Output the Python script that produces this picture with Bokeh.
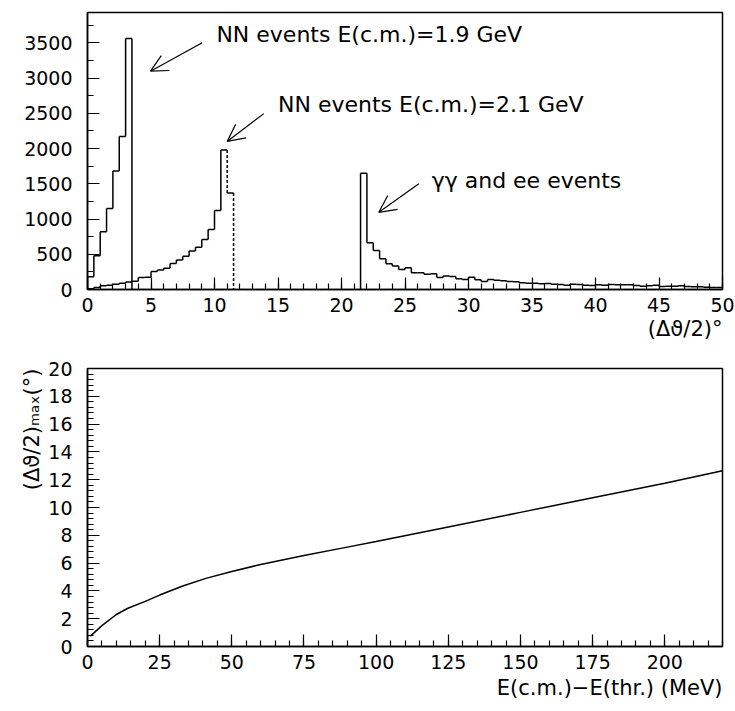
from bokeh.plotting import figure
from bokeh.layouts import column
from bokeh.models import Range1d, SingleIntervalTicker, Label, Arrow, OpenHead, Title
from bokeh.embed import file_html
from bokeh.resources import INLINE

# ---------------- data ----------------
bin_width = 0.5
nn19_start = 0.0
nn19_counts = [180, 480, 820, 1150, 1680, 2170, 3560]
nn21_start = 0.0
nn21_counts = [10, 30, 52, 60, 75, 90, 105, 118, 170, 175, 255, 275, 300, 370,
               420, 470, 545, 600, 710, 850, 1120, 1980, 1370]
gg_start = 21.5
gg_counts = [1650, 663, 554, 436, 365, 332, 284, 308, 237, 237, 218, 223, 171, 190,
             185, 152, 142, 175, 140, 114, 142, 133, 123, 114, 109, 95, 90, 90, 81,
             85, 76, 71, 62, 76, 71, 62, 57, 66, 62, 71, 66, 66, 66, 57, 47, 52, 62,
             43, 47, 47, 52, 43, 38, 38, 33, 28, 28]

e_excess = [1, 5, 10, 14, 20, 25, 33, 41, 50, 60, 75, 90, 100, 125, 150, 175, 200, 220]
theta_max = [0.75, 1.5, 2.3, 2.75, 3.25, 3.7, 4.35, 4.9, 5.4, 5.9, 6.55, 7.15, 7.55,
             8.6, 9.65, 10.7, 11.75, 12.65]

FONT = "DejaVu Sans"
TICK_FS = "19px"
TXT_FS = "21px"
ANN_FS = "22px"


def style_axes(p, xint, xminor, yint, yminor):
    p.grid.visible = False
    p.outline_line_color = "black"
    p.outline_line_width = 1.5
    p.outline_line_alpha = 1.0
    p.xaxis.ticker = SingleIntervalTicker(interval=xint, num_minor_ticks=xminor)
    p.yaxis.ticker = SingleIntervalTicker(interval=yint, num_minor_ticks=yminor)
    for ax in (p.xaxis[0], p.yaxis[0]):
        ax.axis_line_color = "black"
        ax.axis_line_width = 1.5
        ax.major_tick_in = 12
        ax.major_tick_out = 0
        ax.minor_tick_in = 6
        ax.minor_tick_out = 0
        ax.major_tick_line_width = 1.2
        ax.minor_tick_line_width = 1.2
        ax.major_tick_line_color = "black"
        ax.minor_tick_line_color = "black"
        ax.major_label_text_font = FONT
        ax.major_label_text_font_size = TICK_FS
        ax.major_label_text_color = "black"
    p.xaxis.major_label_standoff = 8
    p.yaxis.major_label_standoff = 15


def hist_segments(start, counts):
    edges = [start + i * bin_width for i in range(len(counts) + 1)]
    hx0, hx1, hy = [], [], []
    for i, c in enumerate(counts):
        hx0.append(edges[i]); hx1.append(edges[i + 1]); hy.append(c)
    vx, vy0, vy1 = [], [], []
    prev = 0
    for i in range(len(counts) + 1):
        cur = counts[i] if i < len(counts) else 0
        vx.append(edges[i]); vy0.append(prev); vy1.append(cur)
        prev = cur
    return hx0, hx1, hy, vx, vy0, vy1


def axis_title(text, align, standoff):
    return Title(text=text, align=align, text_font=FONT, text_font_size=TXT_FS,
                 text_font_style="normal", text_color="black", standoff=standoff)


# ---------------- top figure ----------------
p1 = figure(width=735, height=345, x_range=Range1d(0, 50), y_range=Range1d(0, 3930),
            output_backend="svg", toolbar_location=None,
            min_border_left=87, min_border_right=13, min_border_top=12, min_border_bottom=56)
style_axes(p1, 5, 5, 500, 2)

for start, counts, dash_drops in ((nn19_start, nn19_counts, False),
                                  (nn21_start, nn21_counts, True),
                                  (gg_start, gg_counts, False)):
    hx0, hx1, hy, vx, vy0, vy1 = hist_segments(start, counts)
    p1.segment(x0=hx0, x1=hx1, y0=hy, y1=hy, line_color="black", line_width=1.5)
    peak = counts.index(max(counts))
    sx, sy0, sy1, dx, dy0, dy1 = [], [], [], [], [], []
    for i, (x, a, b) in enumerate(zip(vx, vy0, vy1)):
        if dash_drops and i > peak and b < a:
            dx.append(x); dy0.append(a); dy1.append(b)
        else:
            sx.append(x); sy0.append(a); sy1.append(b)
    p1.segment(x0=sx, x1=sx, y0=sy0, y1=sy1, line_color="black", line_width=1.5)
    if dx:
        p1.segment(x0=dx, x1=dx, y0=dy0, y1=dy1, line_color="black",
                   line_width=1.5, line_dash="3 2")

labels_top = [
    ("NN events E(c.m.)=1.9 GeV", 10.15, 3620, 9.03, 3500, 4.96, 3097),
    ("NN events E(c.m.)=2.1 GeV", 15.0, 2625, 13.88, 2495, 11.0, 2101),
    ("γγ and ee events", 27.1, 1540, 26.09, 1499, 22.94, 1095),
]
for txt, tx, ty, xs, ys, xe, ye in labels_top:
    p1.add_layout(Label(x=tx, y=ty, text=txt, text_font=FONT, text_font_size=ANN_FS,
                        text_color="black", text_baseline="alphabetic"))
    p1.add_layout(Arrow(end=OpenHead(size=17, line_width=1.2, line_color="black"),
                        x_start=xs, y_start=ys, x_end=xe, y_end=ye,
                        line_width=1.2, line_color="black"))

p1.add_layout(axis_title("(Δϑ/2)°", "right", 0), "below")

# ---------------- bottom figure ----------------
p2 = figure(width=735, height=366, x_range=Range1d(0, 220), y_range=Range1d(0, 20),
            output_backend="svg", toolbar_location=None,
            min_border_left=87, min_border_right=13, min_border_top=23, min_border_bottom=65)
style_axes(p2, 25, 5, 2, 5)
p2.line(e_excess, theta_max, line_color="black", line_width=1.5)

p2.add_layout(axis_title("E(c.m.)−E(thr.) (MeV)", "right", 4), "below")
p2.add_layout(axis_title("(Δϑ/2)ₘₐₓ(°)", "right", 4), "left")

layout = column(p1, p2, spacing=0)
open("out.html", "w").write(file_html(layout, INLINE))
